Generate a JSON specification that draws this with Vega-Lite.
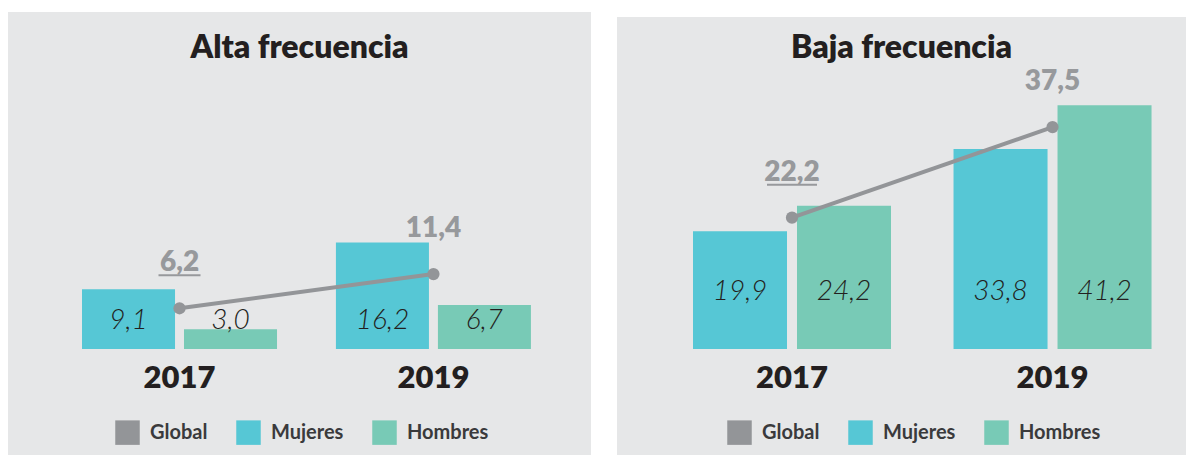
{
  "$schema": "https://vega.github.io/schema/vega-lite/v6.json",
  "padding": {"left": 8, "top": 12, "right": 0, "bottom": 0},
  "background": "#ffffff",
  "spacing": 26,
  "center": true,
  "config": {
    "view": {"fill": "#e6e7e8", "stroke": null},
    "font": "Lato",
    "locale": {"number": {"decimal": ",", "thousands": ".", "grouping": [3], "currency": ["", " €"]}}
  },
  "resolve": {
    "scale": {"color": "independent", "x": "independent", "y": "independent", "xOffset": "independent"},
    "legend": {"color": "independent"}
  },
  "datasets": {
    "alta": [
      {"year": "2017", "serie": "Global", "value": 6.2},
      {"year": "2017", "serie": "Mujeres", "value": 9.1},
      {"year": "2017", "serie": "Hombres", "value": 3.0},
      {"year": "2019", "serie": "Global", "value": 11.4},
      {"year": "2019", "serie": "Mujeres", "value": 16.2},
      {"year": "2019", "serie": "Hombres", "value": 6.7}
    ],
    "baja": [
      {"year": "2017", "serie": "Global", "value": 22.2},
      {"year": "2017", "serie": "Mujeres", "value": 19.9},
      {"year": "2017", "serie": "Hombres", "value": 24.2},
      {"year": "2019", "serie": "Global", "value": 37.5},
      {"year": "2019", "serie": "Mujeres", "value": 33.8},
      {"year": "2019", "serie": "Hombres", "value": 41.2}
    ]
  },
  "hconcat": [
    {
      "width": 583,
      "height": 448,
      "data": {"name": "alta"},
      "title": {"text": "Alta frecuencia", "offset": -53, "fontSize": 32, "font": "Lato", "fontWeight": 800, "color": "#231f20", "anchor": "middle", "frame": "group"},
      "encoding": {
        "x": {
          "field": "year", "type": "nominal",
          "scale": {"paddingInner": 0.232, "paddingOuter": 0.264, "align": 0.552},
          "axis": {"orient": "bottom", "offset": -82, "labelBaseline": "middle", "labelPadding": 0, "ticks": false, "domain": false, "title": null, "labelAngle": 0, "labelFontSize": 31, "labelFont": "Lato", "labelFontWeight": 800, "labelColor": "#231f20"}
        }
      },
      "layer": [
        {
          "transform": [{"filter": "datum.serie !== 'Global'"}],
          "mark": {"type": "bar"},
          "encoding": {
            "y": {"field": "value", "type": "quantitative", "scale": {"domain": [-16.9, 51.3], "nice": false, "zero": false}, "axis": null},
            "y2": {"datum": 0},
            "xOffset": {"field": "serie", "type": "nominal", "scale": {"domain": ["Mujeres", "Hombres"], "paddingInner": 0.088}},
            "color": {
              "field": "serie", "type": "nominal",
              "scale": {"domain": ["Global", "Mujeres", "Hombres"], "range": ["#939598", "#56c7d5", "#78cab6"]},
              "legend": {"orient": "none", "legendX": 107, "legendY": 408, "direction": "horizontal", "title": null, "symbolType": "square", "symbolSize": 600, "symbolStrokeWidth": 0, "symbolOpacity": 1, "labelFontSize": 20, "labelFont": "Lato", "labelFontWeight": "bold", "labelColor": "#3a3a3c", "columnPadding": 28, "labelOffset": 10}
            }
          }
        },
        {
          "transform": [{"filter": "datum.serie !== 'Global'"}],
          "mark": {"type": "text", "fontSize": 28, "fontStyle": "italic", "fontWeight": 300, "color": "#231f20", "baseline": "middle", "align": "center"},
          "encoding": {
            "y": {"datum": 4.3, "type": "quantitative"},
            "xOffset": {"field": "serie", "type": "nominal"},
            "text": {"field": "value", "type": "quantitative", "format": ".1f"}
          }
        },
        {
          "transform": [{"filter": "datum.serie === 'Global'"}],
          "mark": {"type": "line", "strokeWidth": 4, "color": "#939598"},
          "encoding": {"y": {"field": "value", "type": "quantitative"}}
        },
        {
          "transform": [{"filter": "datum.serie === 'Global'"}],
          "mark": {"type": "circle", "size": 150, "opacity": 1, "color": "#939598"},
          "encoding": {"y": {"field": "value", "type": "quantitative"}}
        },
        {
          "transform": [{"filter": "datum.serie === 'Global'"}],
          "mark": {"type": "text", "fontSize": 28, "fontWeight": 800, "color": "#97999c", "baseline": "middle", "align": "center", "dy": -45},
          "encoding": {
            "y": {"field": "value", "type": "quantitative"},
            "text": {"field": "value", "type": "quantitative", "format": ".1f"}
          }
        },
        {
          "transform": [{"filter": "datum.serie === 'Global' && datum.year === '2017'"}],
          "mark": {"type": "rule", "strokeWidth": 2, "color": "#97999c", "xOffset": -21, "x2Offset": 21, "yOffset": -33},
          "encoding": {
            "x2": {"field": "year"},
            "y": {"field": "value", "type": "quantitative"}
          }
        }
      ]
    },
    {
      "width": 569,
      "height": 438,
      "data": {"name": "baja"},
      "title": {"text": "Baja frecuencia", "offset": -48, "fontSize": 32, "font": "Lato", "fontWeight": 800, "color": "#231f20", "anchor": "middle", "frame": "group"},
      "encoding": {
        "x": {
          "field": "year", "type": "nominal",
          "scale": {"paddingInner": 0.24, "paddingOuter": 0.212, "align": 0.688},
          "axis": {"orient": "bottom", "offset": -77, "labelBaseline": "middle", "labelPadding": 0, "ticks": false, "domain": false, "title": null, "labelAngle": 0, "labelFontSize": 31, "labelFont": "Lato", "labelFontWeight": 800, "labelColor": "#231f20"}
        }
      },
      "layer": [
        {
          "transform": [{"filter": "datum.serie !== 'Global'"}],
          "mark": {"type": "bar"},
          "encoding": {
            "y": {"field": "value", "type": "quantitative", "scale": {"domain": [-17.9, 56.1], "nice": false, "zero": false}, "axis": null},
            "y2": {"datum": 0},
            "xOffset": {"field": "serie", "type": "nominal", "scale": {"domain": ["Mujeres", "Hombres"], "paddingInner": 0.096}},
            "color": {
              "field": "serie", "type": "nominal",
              "scale": {"domain": ["Global", "Mujeres", "Hombres"], "range": ["#939598", "#56c7d5", "#78cab6"]},
              "legend": {"orient": "none", "legendX": 110, "legendY": 403, "direction": "horizontal", "title": null, "symbolType": "square", "symbolSize": 600, "symbolStrokeWidth": 0, "symbolOpacity": 1, "labelFontSize": 20, "labelFont": "Lato", "labelFontWeight": "bold", "labelColor": "#3a3a3c", "columnPadding": 28, "labelOffset": 10}
            }
          }
        },
        {
          "transform": [{"filter": "datum.serie !== 'Global'"}],
          "mark": {"type": "text", "fontSize": 28, "fontStyle": "italic", "fontWeight": 300, "color": "#231f20", "baseline": "middle", "align": "center"},
          "encoding": {
            "y": {"datum": 9.6, "type": "quantitative"},
            "xOffset": {"field": "serie", "type": "nominal"},
            "text": {"field": "value", "type": "quantitative", "format": ".1f"}
          }
        },
        {
          "transform": [{"filter": "datum.serie === 'Global'"}],
          "mark": {"type": "line", "strokeWidth": 4, "color": "#939598"},
          "encoding": {"y": {"field": "value", "type": "quantitative"}}
        },
        {
          "transform": [{"filter": "datum.serie === 'Global'"}],
          "mark": {"type": "circle", "size": 150, "opacity": 1, "color": "#939598"},
          "encoding": {"y": {"field": "value", "type": "quantitative"}}
        },
        {
          "transform": [{"filter": "datum.serie === 'Global'"}],
          "mark": {"type": "text", "fontSize": 28, "fontWeight": 800, "color": "#97999c", "baseline": "middle", "align": "center", "dy": -45},
          "encoding": {
            "y": {"field": "value", "type": "quantitative"},
            "text": {"field": "value", "type": "quantitative", "format": ".1f"}
          }
        },
        {
          "transform": [{"filter": "datum.serie === 'Global' && datum.year === '2017'"}],
          "mark": {"type": "rule", "strokeWidth": 2, "color": "#97999c", "xOffset": -25, "x2Offset": 25, "yOffset": -33},
          "encoding": {
            "x2": {"field": "year"},
            "y": {"field": "value", "type": "quantitative"}
          }
        }
      ]
    }
  ]
}
